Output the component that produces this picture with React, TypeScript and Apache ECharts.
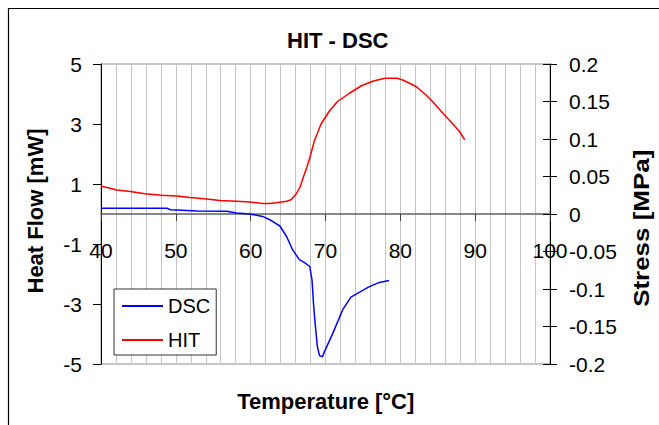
import React, { useEffect, useRef } from "react";
import * as echarts from "echarts";

const dscTemp = [40.0, 44.0, 48.8, 49.3, 52.9, 56.8, 58.1, 59.9, 61.6, 62.7, 63.9, 64.8, 65.6, 66.5, 67.2, 67.9, 68.2, 68.4, 68.6, 68.9, 69.2, 69.6, 69.8, 70.9, 72.3, 73.4, 74.5, 75.8, 77.2, 78.5];
const dscFlow = [0.19, 0.19, 0.19, 0.14, 0.1, 0.09, 0.03, 0.0, -0.08, -0.21, -0.4, -0.75, -1.19, -1.52, -1.62, -1.75, -2.2, -3.0, -3.6, -4.4, -4.72, -4.76, -4.62, -4.02, -3.19, -2.77, -2.61, -2.43, -2.28, -2.22];

const hitTemp = [40.0, 41.0, 42.1, 43.9, 45.9, 48.1, 50.1, 51.9, 54.1, 55.9, 58.1, 59.9, 61.6, 62.5, 63.4, 64.8, 65.4, 66.1, 66.6, 67.0, 67.5, 67.9, 68.5, 69.4, 70.5, 71.6, 73.2, 74.8, 76.3, 77.9, 79.6, 80.5, 82.1, 83.4, 84.3, 85.9, 87.2, 87.9, 88.6];
const hitStress = [0.037, 0.035, 0.032, 0.03, 0.027, 0.025, 0.024, 0.022, 0.02, 0.018, 0.017, 0.016, 0.014, 0.014, 0.015, 0.017, 0.019, 0.027, 0.036, 0.048, 0.062, 0.075, 0.097, 0.12, 0.137, 0.15, 0.161, 0.171, 0.177, 0.181, 0.181, 0.178, 0.17, 0.159, 0.15, 0.132, 0.118, 0.11, 0.099];

const seriesNames = ["DSC", "HIT"];
const tempTicks = [40, 50, 60, 70, 80, 90, 100];
const flowTicks = [-5, -3, -1, 1, 3, 5];
const stressTicks = [-0.2, -0.15, -0.1, -0.05, 0, 0.05, 0.1, 0.15, 0.2];

const FONT = "'Liberation Sans', Arial, sans-serif";

export default function App() {
  const ref = useRef<HTMLDivElement>(null);
  useEffect(() => {
    if (!ref.current) return;
    const chart = echarts.init(ref.current, null, { renderer: "svg" });
    const dscData = dscTemp.map((t, i) => [t, dscFlow[i]]);
    const hitData = hitTemp.map((t, i) => [t, hitStress[i]]);
    const fmtStress = (v: number) => String(+v.toFixed(2));
    chart.setOption({
      animation: false,
      backgroundColor: "#ffffff",
      title: {
        text: "HIT - DSC",
        left: 287,
        top: 29,
        padding: 0,
        textStyle: { fontSize: 22, fontWeight: "bold", fontFamily: FONT, color: "#000" },
      },
      grid: {
        left: 101,
        right: 109,
        top: 64,
        bottom: 61,
        containLabel: false,
        outerBoundsMode: "none",
        show: true,
        borderColor: "#909090",
        borderWidth: 1,
        backgroundColor: "#ffffff",
      },
      legend: {
        data: seriesNames,
        orient: "vertical",
        left: 114,
        top: 289,
        icon: "rect",
        itemWidth: 41,
        itemHeight: 2,
        itemGap: 14,
        padding: [7, 6, 5, 8],
        backgroundColor: "#ffffff",
        borderColor: "#333333",
        borderWidth: 1,
        borderRadius: 0,
        textStyle: { fontSize: 20, lineHeight: 20, fontFamily: FONT, color: "#000" },
      },
      xAxis: {
        type: "value",
        position: "bottom",
        offset: -150,
        min: tempTicks[0],
        max: tempTicks[tempTicks.length - 1],
        interval: 10,
        axisLine: { show: true, onZero: false, lineStyle: { color: "#606060", width: 1.5 } },
        axisTick: { show: true, inside: false, length: 7, lineStyle: { color: "#404040", width: 1 } },
        axisLabel: { show: true, margin: 26, fontSize: 21, fontFamily: FONT, color: "#000", showMinLabel: true, showMaxLabel: true },
        splitLine: { show: true, lineStyle: { color: "#c4c4c4", width: 1 } },
        minorTick: { show: false, splitNumber: 5 },
        minorSplitLine: { show: true, lineStyle: { color: "#c4c4c4", width: 1 } },
      },
      yAxis: [
        {
          type: "value",
          position: "left",
          min: flowTicks[0],
          max: flowTicks[flowTicks.length - 1],
          interval: 2,
          axisLine: { show: true, onZero: false, lineStyle: { color: "#000", width: 1 } },
          axisTick: { show: true, inside: false, length: 8, lineStyle: { color: "#000" } },
          axisLabel: { margin: 19, fontSize: 21, fontFamily: FONT, color: "#000" },
          splitLine: { show: false },
        },
        {
          type: "value",
          position: "right",
          min: stressTicks[0],
          max: stressTicks[stressTicks.length - 1],
          interval: 0.05,
          axisLine: { show: true, onZero: false, lineStyle: { color: "#000", width: 1 } },
          axisTick: { show: true, inside: false, length: 7, lineStyle: { color: "#000" } },
          axisLabel: { margin: 19, fontSize: 21, fontFamily: FONT, color: "#000", formatter: fmtStress },
          splitLine: { show: false },
        },
        {
          type: "value",
          position: "right",
          min: stressTicks[0],
          max: stressTicks[stressTicks.length - 1],
          interval: 0.05,
          axisLine: { show: false, onZero: false },
          axisTick: { show: true, inside: true, length: 7, lineStyle: { color: "#000" } },
          axisLabel: { show: false },
          splitLine: { show: false },
        },
      ],
      graphic: [
        {
          type: "rect",
          silent: true,
          shape: { x: 8.5, y: 8.5, width: 700, height: 500 },
          style: { fill: "none", stroke: "#000", lineWidth: 1.2 },
          z: -1,
        },
        {
          type: "text",
          x: 35.8,
          y: 211,
          rotation: Math.PI / 2,
          style: {
            text: "Heat Flow [mW]",
            font: `bold 22px ${FONT}`,
            fill: "#000",
            align: "center",
            verticalAlign: "middle",
          },
        },
        {
          type: "text",
          x: 641.3,
          y: 228.3,
          rotation: Math.PI / 2,
          scaleX: 1.18,
          style: {
            text: "Stress [MPa]",
            font: `bold 22px ${FONT}`,
            fill: "#000",
            align: "center",
            verticalAlign: "middle",
          },
        },
        {
          type: "text",
          x: 325.8,
          y: 401.7,
          style: {
            text: "Temperature [°C]",
            font: `bold 22px ${FONT}`,
            fill: "#000",
            align: "center",
            verticalAlign: "middle",
          },
        },
      ],
      series: [
        {
          name: seriesNames[0],
          type: "line",
          yAxisIndex: 0,
          data: dscData,
          symbol: "none",
          smooth: false,
          color: "#0000ff",
          lineStyle: { color: "#0000ff", width: 1.5 },
          z: 3,
        },
        {
          name: seriesNames[1],
          type: "line",
          yAxisIndex: 1,
          data: hitData,
          symbol: "none",
          smooth: false,
          color: "#ff0000",
          lineStyle: { color: "#ff0000", width: 1.5 },
          z: 3,
        },
      ],
    });
    return () => chart.dispose();
  }, []);
  return (
    <div
      ref={ref}
      style={{ position: "fixed", left: 0, top: 0, width: 659, height: 425, background: "#fff" }}
    />
  );
}
